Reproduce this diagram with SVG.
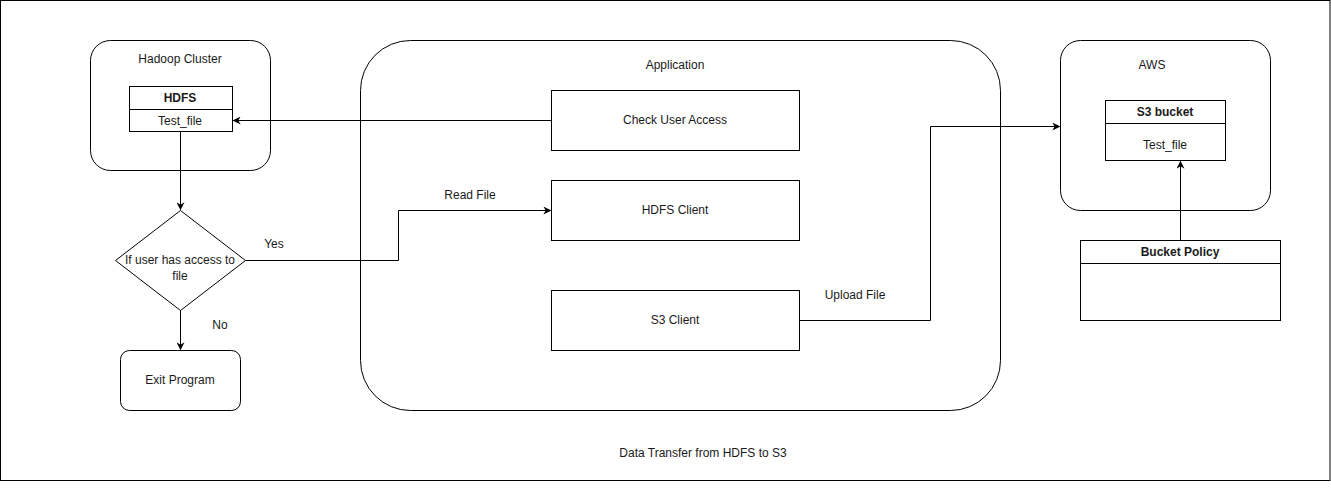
<svg xmlns="http://www.w3.org/2000/svg" width="1331" height="489" viewBox="0 0 1331 489">
<style>
text{font-family:"Liberation Sans",Arial,sans-serif;font-size:12px;fill:#1a1a1a;text-anchor:middle}
.b{font-weight:bold}
.s{fill:#fff;stroke:#000;stroke-width:1}
.c{fill:none;stroke:#000;stroke-width:1}
</style>
<defs>
<marker id="a" viewBox="0 0 10 10" refX="9" refY="5" markerWidth="8" markerHeight="8" markerUnits="userSpaceOnUse" orient="auto">
<path d="M0,0 L10,5 L0,10 L3,5 Z" fill="#000"/>
</marker>
</defs>
<rect width="1331" height="489" fill="#fff"/>
<rect x="0.5" y="0.5" width="1329.5" height="480" class="s"/>
<g id="hadoop"><rect x="90.5" y="40.5" width="180" height="130" rx="20" class="s"/><text x="180" y="63">Hadoop Cluster</text></g>
<g id="hdfs"><rect x="129.5" y="86.5" width="103" height="45" class="s"/><line x1="129.5" y1="109.5" x2="232.5" y2="109.5" class="c"/><text x="180" y="102" class="b">HDFS</text><text x="180" y="125">Test_file</text></g>
<g id="app"><rect x="360.5" y="40.5" width="640" height="370" rx="50" class="s"/><text x="675" y="69">Application</text></g>
<g id="check"><rect x="551.5" y="90.5" width="248" height="60" class="s"/><text x="675" y="124">Check User Access</text></g>
<g id="hdfsclient"><rect x="551.5" y="180.5" width="248" height="60" class="s"/><text x="675" y="214">HDFS Client</text></g>
<g id="s3client"><rect x="551.5" y="290.5" width="248" height="60" class="s"/><text x="675" y="324">S3 Client</text></g>
<g id="decision"><path d="M180.5,210.5 L245.5,260.5 L180.5,310.5 L115.5,260.5 Z" class="s"/><text x="180" y="264">If user has access to</text><text x="180" y="280">file</text></g>
<g id="exit"><rect x="120.5" y="350.5" width="120" height="60" rx="9" class="s"/><text x="180" y="384">Exit Program</text></g>
<g id="aws"><rect x="1060.5" y="40.5" width="210" height="170" rx="20" class="s"/><text x="1152" y="69">AWS</text></g>
<g id="s3bucket"><rect x="1105.5" y="100.5" width="120" height="60" class="s"/><line x1="1105.5" y1="123.5" x2="1225.5" y2="123.5" class="c"/><text x="1165" y="116" class="b">S3 bucket</text><text x="1165" y="149">Test_file</text></g>
<g id="policy"><rect x="1080.5" y="240.5" width="200" height="80" class="s"/><line x1="1080.5" y1="263.5" x2="1280.5" y2="263.5" class="c"/><text x="1180" y="256" class="b">Bucket Policy</text></g>
<g id="connectors">
<path d="M551.5,120.5 L233.5,120.5" class="c" marker-end="url(#a)"/>
<path d="M180.5,131.5 L180.5,209.5" class="c" marker-end="url(#a)"/>
<path d="M245.5,260.5 L398.5,260.5 L398.5,210.5 L550.5,210.5" class="c" marker-end="url(#a)"/>
<path d="M180.5,310.5 L180.5,349.5" class="c" marker-end="url(#a)"/>
<path d="M799.5,320.5 L930.5,320.5 L930.5,126.5 L1059.5,126.5" class="c" marker-end="url(#a)"/>
<path d="M1180.5,240.5 L1180.5,161.5" class="c" marker-end="url(#a)"/>
<text x="274" y="248">Yes</text>
<text x="470" y="199">Read File</text>
<text x="220" y="329">No</text>
<text x="855" y="299">Upload File</text>
</g>
<text x="703" y="457">Data Transfer from HDFS to S3</text>
</svg>
